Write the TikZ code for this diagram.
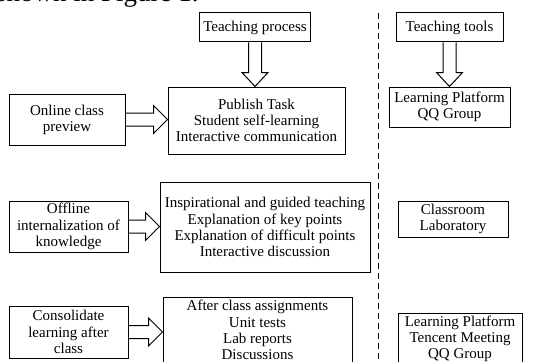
\documentclass[tikz,border=0pt]{standalone}
\usepackage{fontspec}
\setmainfont{Liberation Serif}
\usetikzlibrary{calc}

\newcommand{\fatright}[2]{%
  \draw[fat] let \p1=(#1.east), \p2=(#2.west) in
    (\x1,\y1+6.5pt) -- (\x2-14pt,\y1+6.5pt) -- (\x2-14pt,\y1+14pt) -- (\x2,\y1)
    -- (\x2-14pt,\y1-14pt) -- (\x2-14pt,\y1-6.5pt) -- (\x1,\y1-6.5pt);}
\newcommand{\fatdown}[2]{%
  \draw[fat] let \p1=(#1.south), \p2=(#2.north) in
    (\x1-6.5pt,\y1) -- (\x1-6.5pt,\y2+14pt) -- (\x1-13pt,\y2+14pt) -- (\x1,\y2)
    -- (\x1+13pt,\y2+14pt) -- (\x1+6.5pt,\y2+14pt) -- (\x1+6.5pt,\y1);}

\begin{document}
\begin{tikzpicture}[x=1pt, y=-1pt,
        box/.style={draw, line width=1pt, align=center, inner sep=2pt, font=\fontsize{15}{16.2}\selectfont},
        fat/.style={draw, line width=1pt, line join=miter},
        divider/.style={line width=1pt, dash pattern=on 6pt off 4pt}
    ]
      \useasboundingbox (0,0) rectangle (548,361);
      \node[anchor=base west, inner sep=0pt, font=\fontsize{27}{30}\selectfont] (lead) at (-4,1.5) {shown in Figure 1.};
      \node[box, minimum width=111pt, minimum height=29pt] (process) at (255,27.5) {Teaching process};
      \node[box, minimum width=177pt, minimum height=67pt] (publish) at (256.5,120.5)
           {Publish Task\\Student self-learning\\Interactive communication};
      \node[box, minimum width=116pt, minimum height=51pt] (online) at (67,119.5) {Online class\\preview};
      \node[box, minimum width=119pt, minimum height=51pt] (offline) at (68.5,226.5)
           {Offline\\internalization of\\knowledge};
      \node[box, minimum width=210pt, minimum height=90pt] (inspire) at (265,227)
           {Inspirational and guided teaching\\Explanation of key points\\Explanation of difficult points\\Interactive discussion};
      \node[box, minimum width=119pt, minimum height=52pt] (consol) at (68.5,332)
           {Consolidate\\learning after\\class};
      \node[box, minimum width=189pt, minimum height=66pt] (after) at (257.5,330)
           {After class assignments\\Unit tests\\Lab reports\\Discussions};
      \node[box, minimum width=124pt, minimum height=50pt] (tencent) at (460,339)
           {Learning Platform\\Tencent Meeting\\QQ Group};
      \node[box, minimum width=107pt, minimum height=29pt] (tools) at (449.5,27.5) {Teaching tools};
      \node[box, minimum width=121pt, minimum height=40pt] (lpqq) at (449.5,107) {Learning Platform\\QQ Group};
      \node[box, minimum width=110pt, minimum height=36pt] (classroom) at (453,219) {Classroom\\Laboratory};
      \coordinate (dtop) at (378,13);
      \coordinate (dbot) at (378,361);
      \draw[divider] (dtop) -- (dbot);
      \fatdown{process}{publish}
      \fatdown{tools}{lpqq}
      \fatright{online}{publish}
      \fatright{offline}{inspire}
      \fatright{consol}{after}
\end{tikzpicture}
\end{document}
